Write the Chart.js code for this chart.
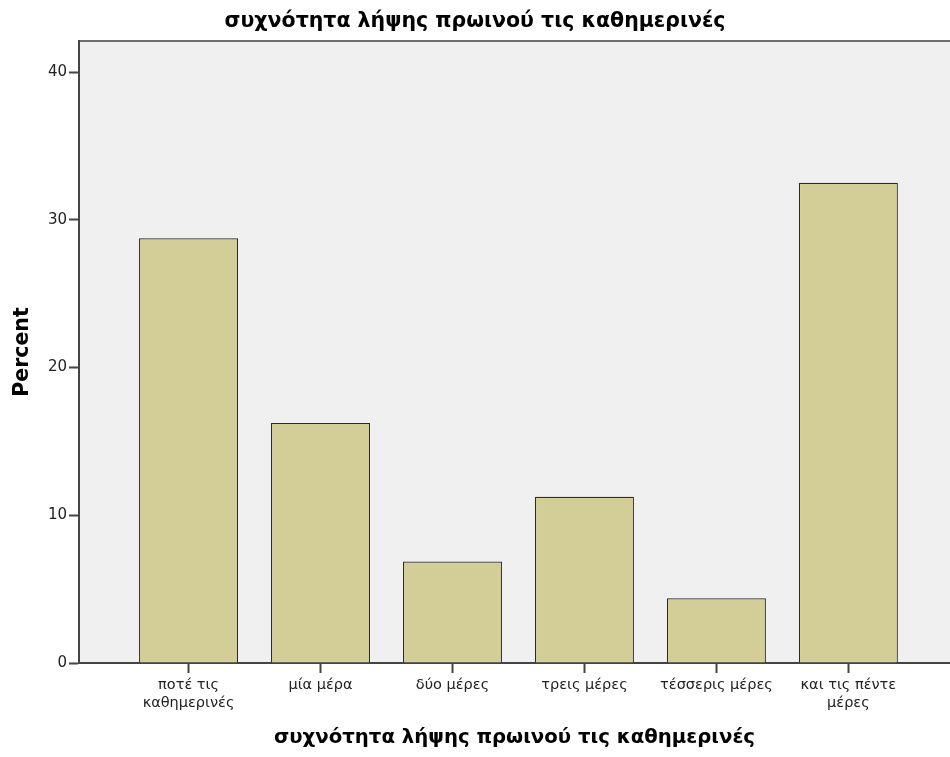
<!DOCTYPE html>
<html>
<head>
<meta charset="utf-8">
<script src="https://cdn.jsdelivr.net/npm/chart.js@4/dist/chart.umd.min.js"></script>
<style>
  html, body { margin: 0; padding: 0; background: #ffffff; }
  #wrap { width: 950px; height: 757px; }
</style>
</head>
<body>
<div id="wrap"><canvas id="c" width="950" height="757"></canvas></div>
<script>
// ---- data ----
const chartTitle = 'συχνότητα λήψης πρωινού τις καθημερινές';
const xAxisTitle = 'συχνότητα λήψης πρωινού τις καθημερινές';
const yAxisTitle = 'Percent';
const categories = [
  ['ποτέ τις', 'καθημερινές'],
  'μία μέρα',
  'δύο μέρες',
  'τρεις μέρες',
  'τέσσερις μέρες',
  ['και τις πέντε', 'μέρες']
];
const percents = [28.75, 16.25, 6.875, 11.25, 4.375, 32.5];
const yTicks = [0, 10, 20, 30, 40];

const points = percents.map((v, i) => ({ x: i, y: v }));

const plotBg = {
  id: 'plotBg',
  beforeDraw(chart) {
    const a = chart.chartArea, ctx = chart.ctx;
    ctx.save();
    ctx.fillStyle = '#f0f0f0';
    ctx.fillRect(a.left, a.top, a.right - a.left, a.bottom - a.top);
    ctx.strokeStyle = '#6f6f6f';
    ctx.lineWidth = 2;
    ctx.beginPath();
    ctx.moveTo(a.left, a.top);
    ctx.lineTo(a.right, a.top);
    ctx.stroke();
    ctx.restore();
  }
};

const FONT = "'DejaVu Sans', Verdana, sans-serif";

new Chart(document.getElementById('c'), {
  type: 'bar',
  data: {
    datasets: [{
      data: points,
      backgroundColor: '#d3ce97',
      borderColor: '#2a2a2a',
      borderWidth: 1.2,
      barPercentage: 0.75,
      categoryPercentage: 1
    }]
  },
  options: {
    responsive: false,
    devicePixelRatio: 1,
    animation: false,
    layout: { padding: 0 },
    plugins: {
      legend: { display: false },
      tooltip: { enabled: false },
      title: {
        display: true,
        text: chartTitle,
        color: '#000',
        font: { family: FONT, size: 20.5, weight: 'bold', lineHeight: 1.2 },
        padding: { top: 9, bottom: 7.4 }
      }
    },
    scales: {
      x: {
        type: 'linear',
        min: -0.83,
        max: 5.77,
        offset: false,
        afterFit(s) { s.height = 94; },
        afterBuildTicks(s) { s.ticks = categories.map((c, i) => ({ value: i })); },
        ticks: {
          autoSkip: false,
          maxRotation: 0,
          minRotation: 0,
          padding: 4,
          color: '#222',
          font: { family: FONT, size: 14.5, lineHeight: 1.2 },
          callback: (v) => categories[v]
        },
        grid: {
          offset: false,
          drawOnChartArea: false,
          drawTicks: true,
          tickLength: 10,
          tickColor: '#444',
          tickWidth: 2
        },
        border: { display: true, color: '#444', width: 2 },
        title: {
          display: true,
          text: xAxisTitle,
          color: '#000',
          font: { family: FONT, size: 19.7, weight: 'bold', lineHeight: 1.2 },
          padding: { top: 0, bottom: 7 }
        }
      },
      y: {
        min: 0,
        max: 42.1,
        afterFit(s) { s.width = 79; },
        afterBuildTicks(s) { s.ticks = yTicks.map(v => ({ value: v })); },
        ticks: {
          padding: 2,
          color: '#222',
          font: { family: FONT, size: 15 }
        },
        grid: {
          drawOnChartArea: false,
          drawTicks: true,
          tickLength: 10,
          tickColor: '#444',
          tickWidth: 2
        },
        border: { display: true, color: '#444', width: 2 },
        title: {
          display: true,
          text: yAxisTitle,
          color: '#000',
          font: { family: FONT, size: 20.5, weight: 'bold', lineHeight: 1.2 },
          padding: { top: 10, bottom: 0 }
        }
      }
    }
  },
  plugins: [plotBg]
});
</script>
</body>
</html>
